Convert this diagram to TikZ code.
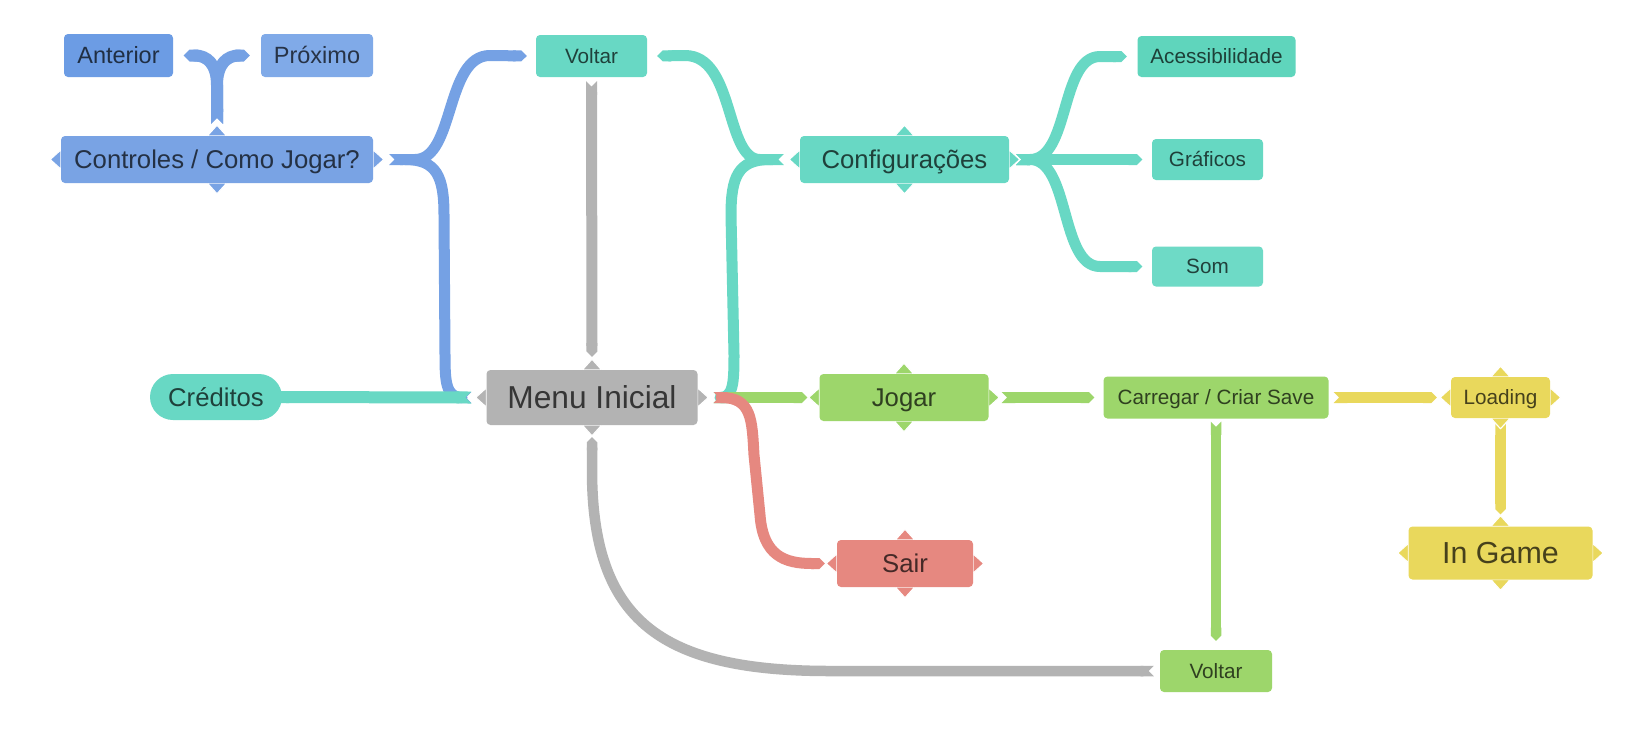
\documentclass[tikz,border=0pt]{standalone}
\usepackage{fontspec}
\setmainfont{Liberation Sans}
\usetikzlibrary{arrows.meta}
\pgfdeclarelayer{bg}
\pgfdeclarelayer{mid}
\pgfsetlayers{bg,mid,main}
\definecolor{cAnt}{RGB}{108,156,228}
\definecolor{cProx}{RGB}{128,170,232}
\definecolor{cCtrl}{RGB}{121,163,228}
\definecolor{cB}{RGB}{117,161,228}
\definecolor{cT}{RGB}{104,216,196}
\definecolor{cAcess}{RGB}{95,213,188}
\definecolor{cGraf}{RGB}{102,216,194}
\definecolor{cSom}{RGB}{110,218,198}
\definecolor{cGr}{RGB}{179,179,179}
\definecolor{cG}{RGB}{157,214,107}
\definecolor{cR}{RGB}{230,136,128}
\definecolor{cY}{RGB}{233,216,92}
\newcommand\fntS{\fontsize{20.7pt}{24pt}\selectfont}
\newcommand\fntM{\fontsize{23.5pt}{27pt}\selectfont}
\newcommand\fntL{\fontsize{25.7pt}{30pt}\selectfont}
\newcommand\fntIG{\fontsize{30.4pt}{35pt}\selectfont}
\newcommand\fntXL{\fontsize{31.7pt}{36pt}\selectfont}
\newcommand\drawhandles[2]{%
  \fill[#2,draw=white,line width=1pt] ([xshift=-9.5pt]#1.north) -- ([yshift=10.5pt]#1.north) -- ([xshift=9.5pt]#1.north) -- cycle;
  \fill[#2,draw=white,line width=1pt] ([xshift=-9.5pt]#1.south) -- ([yshift=-10.5pt]#1.south) -- ([xshift=9.5pt]#1.south) -- cycle;
  \fill[#2,draw=white,line width=1pt] ([yshift=-9.5pt]#1.west) -- ([xshift=-10.5pt]#1.west) -- ([yshift=9.5pt]#1.west) -- cycle;
  \fill[#2,draw=white,line width=1pt] ([yshift=-9.5pt]#1.east) -- ([xshift=10.5pt]#1.east) -- ([yshift=9.5pt]#1.east) -- cycle;}
\tikzset{
  box/.style={rectangle, rounded corners=4pt, inner sep=0pt, text depth=0pt},
  nb/.style={box, fill=#1, text=#1!30!black},
  fS/.style={font=\fntS, text height=14.9pt},
  fM/.style={font=\fntM, text height=16.9pt},
  fL/.style={font=\fntL, text height=18.5pt},
  fIG/.style={font=\fntIG, text height=21.9pt},
  fXL/.style={font=\fntXL, text height=22.8pt},
  conn/.style={line width=11pt, line join=round, {Triangle Cap[reversed]}-{Triangle Cap}},
  connopen/.style={line width=11pt, line join=round, {Triangle Cap[reversed]}-},
}
\begin{document}
\begin{tikzpicture}[x=1pt,y=-1pt]
\useasboundingbox (0,0) rectangle (1650,748);
% nodes
\node[nb=cAnt, minimum width=109pt, minimum height=43pt, fM] (ant) at (118.5,55.5) {Anterior};
\node[nb=cProx, minimum width=112pt, minimum height=43pt, fM] (prox) at (317,55.5) {Próximo};
\node[nb=cCtrl, minimum width=312pt, minimum height=47pt, fL] (ctrl) at (217,159.5) {Controles / Como Jogar?};
\node[nb=cT, minimum width=111pt, minimum height=42pt, fS] (volt1) at (591.5,56) {Voltar};
\node[nb=cT, minimum width=209pt, minimum height=47pt, fL] (conf) at (904.5,159.5) {Configurações};
\node[nb=cAcess, minimum width=158pt, minimum height=41pt, fS] (acess) at (1216.5,56.5) {Acessibilidade};
\node[nb=cGraf, minimum width=111pt, minimum height=41pt, fS] (graf) at (1207.5,159.5) {Gráficos};
\node[nb=cSom, minimum width=111pt, minimum height=40pt, fS] (som) at (1207.5,266.5) {Som};
\node[nb=cT, rounded corners=23pt, minimum width=132pt, minimum height=46pt, fL] (cred) at (216,397) {Créditos};
\node[nb=cGr, minimum width=211pt, minimum height=55pt, fXL] (menu) at (592,397.5) {Menu Inicial};
\node[nb=cG, minimum width=169pt, minimum height=47pt, fL] (jogar) at (904,397.5) {Jogar};
\node[nb=cG, minimum width=225pt, minimum height=42pt, fS] (carr) at (1216,397.5) {Carregar / Criar Save};
\node[nb=cY, minimum width=99pt, minimum height=41pt, fS] (load) at (1500.5,397.5) {Loading};
\node[nb=cY, minimum width=184pt, minimum height=53pt, fIG] (ingame) at (1500.5,553) {In Game};
\node[nb=cR, minimum width=136pt, minimum height=47pt, fL] (sair) at (905,563.5) {Sair};
\node[nb=cG, minimum width=112pt, minimum height=42pt, fS] (volt2) at (1216,671) {Voltar};
% handles
\begin{pgfonlayer}{mid}
\drawhandles{ctrl}{cCtrl}
\drawhandles{conf}{cT}
\drawhandles{menu}{cGr}
\drawhandles{jogar}{cG}
\drawhandles{sair}{cR}
\drawhandles{load}{cY}
\drawhandles{ingame}{cY}
\end{pgfonlayer}
% connectors
\begin{pgfonlayer}{bg}
\fill[white] (0,0) rectangle (1650,748);
% blue
\draw[conn, cB, line width=12pt] ([yshift=12pt]ctrl.north) -- (217,85) .. controls (217,64) and (207,55.5) .. (195,55.5) -- ([xshift=10.5pt]ant.east);
\draw[conn, cB, line width=12pt] ([yshift=12pt]ctrl.north) -- (217,85) .. controls (217,64) and (227,55.5) .. (239,55.5) -- ([xshift=-11pt]prox.west);
\draw[connopen, cB] ([xshift=-15pt]menu.west) -- (462,397.5) .. controls (446,397.5) and (445,382) .. (445,355) -- (444,215) .. controls (444,177) and (437,159.5) .. (405,159.5);
\draw[conn, cB] ([xshift=16pt]ctrl.east) -- (415,159.5) .. controls (455,159.5) and (445,55.5) .. (490,55.5) -- ([xshift=-9pt]volt1.west);
% teal
\draw[conn, cT, line width=12pt] ([xshift=-15pt]menu.west) -- ([xshift=-8pt]cred.east);
\draw[connopen, cT] ([xshift=16pt]menu.east) -- (720,397.5) .. controls (733,397.5) and (734,384) .. (734,355) -- (731,215) .. controls (731,177) and (738,159.5) .. (770,159.5);
\draw[conn, cT] ([xshift=-16pt]conf.west) -- (760,159.5) .. controls (725,159.5) and (735,55.5) .. (685,55.5) -- ([xshift=10pt]volt1.east);
\draw[conn, cT] ([xshift=7pt]conf.east) -- (1030,159.5) .. controls (1070,159.5) and (1060,56.5) .. (1100,56.5) -- ([xshift=-10.5pt]acess.west);
\draw[conn, cT] ([xshift=7pt]conf.east) -- ([xshift=-9.5pt]graf.west);
\draw[conn, cT] ([xshift=7pt]conf.east) -- (1030,159.5) .. controls (1070,159.5) and (1060,266.5) .. (1100,266.5) -- ([xshift=-9.5pt]som.west);
% grey
\draw[conn, cGr] ([yshift=-4pt]volt1.south) -- ([yshift=13pt]menu.north);
\draw[conn, cGr, line width=10.5pt] ([xshift=-6pt]volt2.west) -- (830,671) .. controls (660,671) and (592,620) .. (592,470) -- ([yshift=-12pt]menu.south);
% green
\draw[conn, cG] ([xshift=16pt]menu.east) -- ([xshift=-12pt]jogar.west);
\draw[conn, cG] ([xshift=13pt]jogar.east) -- ([xshift=-9pt]carr.west);
\draw[conn, cG, line width=10.5pt] ([yshift=-3pt]carr.south) -- ([yshift=9pt]volt2.north);
% red
\draw[conn, cR] ([xshift=16pt]menu.east) -- (721,397.5) .. controls (752,397.5) and (752,420) .. (754,455) -- (760,515) .. controls (763,556) and (785,563.5) .. (812,563.5) -- ([xshift=-12pt]sair.west);
% yellow
\draw[conn, cY] ([xshift=5pt]carr.east) -- ([xshift=-14pt]load.west);
\draw[conn, cY, line width=10.5pt] ([yshift=-6pt]load.south) -- ([yshift=12pt]ingame.north);
\end{pgfonlayer}
\end{tikzpicture}
\end{document}
